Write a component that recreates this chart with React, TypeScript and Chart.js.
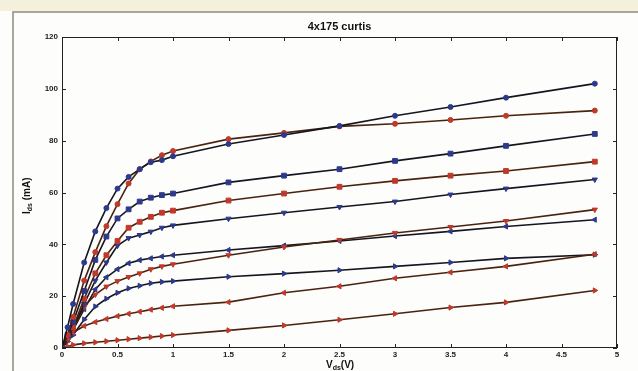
import React, { useEffect, useRef } from "react";
import { Chart, registerables } from "chart.js";

Chart.register(...registerables);

const VDS = [0, 0.05, 0.1, 0.2, 0.3, 0.4, 0.5, 0.6, 0.7, 0.8, 0.9, 1.0, 1.5, 2.0, 2.5, 3.0, 3.5, 4.0, 4.8];

const C1 = [0, 8, 17, 33, 45, 54, 61.5, 66, 69, 71.7, 72.5, 74, 78.7, 82.2, 85.7, 89.6, 93, 96.6, 102];
const C2 = [0, 5, 12, 26, 37, 47, 55.5, 63.5, 69, 72, 74.4, 76, 80.6, 83, 85.5, 86.5, 88, 89.6, 91.6];
const C3 = [0, 5, 10, 22, 34, 43, 50, 53.5, 56.5, 58, 59, 59.6, 63.9, 66.5, 69, 72.2, 75, 78, 82.6];
const C4 = [0, 4, 8, 19, 28.8, 35.8, 41.3, 46.4, 48.7, 50.6, 52.2, 53, 56.9, 59.6, 62.2, 64.5, 66.5, 68.3, 71.9];
const C5 = [0, 4, 8, 17, 26, 33, 39.5, 42.4, 43.6, 44.9, 46.4, 47.3, 49.9, 52.2, 54.4, 56.5, 59.2, 61.5, 65];
const C6 = [0, 3.5, 7, 16, 20.6, 23.7, 25.8, 27.4, 28.8, 30.4, 31.5, 32.3, 35.8, 39, 41.7, 44.4, 46.7, 49, 53.4];
const C7 = [0, 3.5, 7, 15, 22.6, 27.3, 30.4, 32.7, 33.9, 34.6, 35.3, 35.8, 37.8, 39.5, 41.3, 43.2, 45, 46.9, 49.5];
const C8 = [0, 3, 6, 8.5, 10, 11.2, 12.3, 13.2, 14, 14.8, 15.5, 16.1, 17.7, 21.3, 23.8, 26.9, 29.2, 31.5, 36.2];
const C9 = [0, 2.5, 5, 11, 16, 19, 21.3, 23, 24, 25, 25.5, 25.8, 27.5, 28.7, 30, 31.5, 33, 34.6, 36];
const C10 = [0, 0.6, 1.2, 1.8, 2.2, 2.6, 3, 3.4, 3.8, 4.2, 4.6, 5, 6.8, 8.7, 10.9, 13.2, 15.6, 17.6, 22.2];

const X_TICKS = [0, 0.5, 1, 1.5, 2, 2.5, 3, 3.5, 4, 4.5, 5];
const Y_TICKS = [0, 20, 40, 60, 80, 100, 120];

const TITLE = "4x175 curtis";

const BLUE = "#2d3a8c";
const RED = "#c0392b";
const BLUE_LINE = "#15151f";
const RED_LINE = "#4a2210";

const SERIES = [
  { data: C1, color: BLUE, line: BLUE_LINE, style: "circle", rot: 0 },
  { data: C2, color: RED, line: RED_LINE, style: "circle", rot: 0 },
  { data: C3, color: BLUE, line: BLUE_LINE, style: "rect", rot: 0 },
  { data: C4, color: RED, line: RED_LINE, style: "rect", rot: 0 },
  { data: C5, color: BLUE, line: BLUE_LINE, style: "triangle", rot: 180 },
  { data: C6, color: RED, line: RED_LINE, style: "triangle", rot: 180 },
  { data: C7, color: BLUE, line: BLUE_LINE, style: "triangle", rot: 270 },
  { data: C8, color: RED, line: RED_LINE, style: "triangle", rot: 270 },
  { data: C9, color: BLUE, line: BLUE_LINE, style: "triangle", rot: 90 },
  { data: C10, color: RED, line: RED_LINE, style: "triangle", rot: 90 },
];

const FONT = "'Liberation Sans', Arial, sans-serif";

const framePlugin = {
  id: "framePlugin",
  beforeDraw(chart: any) {
    const ctx = chart.ctx;
    ctx.save();
    ctx.fillStyle = "#fdfdfb";
    ctx.fillRect(0, 0, chart.width, chart.height);
    ctx.fillStyle = "#f4f0dc";
    ctx.fillRect(0, 0, chart.width, 11);
    ctx.strokeStyle = "#8a8a80";
    ctx.lineWidth = 1.5;
    ctx.beginPath();
    ctx.moveTo(13, chart.height);
    ctx.lineTo(13, 12);
    ctx.lineTo(chart.width, 12);
    ctx.stroke();
    ctx.restore();
  },
  afterDraw(chart: any) {
    const ctx = chart.ctx;
    const a = chart.chartArea;
    const xs = chart.scales.x;
    const ys = chart.scales.y;
    ctx.save();
    ctx.strokeStyle = "#222";
    ctx.lineWidth = 1;
    ctx.strokeRect(a.left + 0.5, a.top + 0.5, a.right - a.left - 1, a.bottom - a.top - 1);
    const L = 4;
    ctx.beginPath();
    X_TICKS.forEach((v) => {
      const px = Math.round(xs.getPixelForValue(v)) + 0.5;
      ctx.moveTo(px, a.bottom);
      ctx.lineTo(px, a.bottom - L);
      ctx.moveTo(px, a.top);
      ctx.lineTo(px, a.top + L);
    });
    Y_TICKS.forEach((v) => {
      const py = Math.round(ys.getPixelForValue(v)) + 0.5;
      ctx.moveTo(a.left, py);
      ctx.lineTo(a.left + L, py);
      ctx.moveTo(a.right, py);
      ctx.lineTo(a.right - L, py);
    });
    ctx.stroke();

    ctx.fillStyle = "#111";
    ctx.textBaseline = "middle";
    ctx.textAlign = "center";
    ctx.font = "bold 11px " + FONT;
    ctx.fillText(TITLE, (a.left + a.right) / 2, 27);

    // x axis label V_ds(V)
    const xl = 326;
    const xy = 365;
    ctx.textAlign = "left";
    ctx.font = "bold 10px " + FONT;
    ctx.fillText("V", xl, xy);
    let w = ctx.measureText("V").width;
    ctx.font = "bold 7px " + FONT;
    ctx.fillText("ds", xl + w, xy + 3);
    const w2 = ctx.measureText("ds").width;
    ctx.font = "bold 10px " + FONT;
    ctx.fillText("(V)", xl + w + w2, xy);

    // y axis label I_ds (mA)
    ctx.translate(27, 214);
    ctx.rotate(-Math.PI / 2);
    ctx.font = "bold 10px " + FONT;
    ctx.fillText("I", 0, 0);
    w = ctx.measureText("I").width;
    ctx.font = "bold 7px " + FONT;
    ctx.fillText("ds", w, 3);
    const w3 = ctx.measureText("ds").width;
    ctx.font = "bold 10px " + FONT;
    ctx.fillText(" (mA)", w + w3, 0);
    ctx.restore();
  },
};

export default function App() {
  const ref = useRef<HTMLCanvasElement | null>(null);

  useEffect(() => {
    document.body.style.margin = "0";
    if (!ref.current) return;
    const datasets = SERIES.map((s, i) => ({
      label: "c" + (i + 1),
      data: VDS.map((x, j) => ({ x, y: s.data[j] })),
      borderColor: s.line,
      borderWidth: 1.6,
      backgroundColor: s.color,
      pointBackgroundColor: s.color,
      pointBorderColor: s.color,
      pointStyle: s.style as any,
      rotation: s.rot,
      pointRadius: s.style === "rect" ? 3.4 : s.style === "circle" ? 2.5 : 3,
      pointBorderWidth: 1,
      tension: 0,
      showLine: true,
    }));
    const chart = new Chart(ref.current, {
      type: "scatter",
      data: { datasets },
      options: {
        animation: false,
        responsive: false,
        maintainAspectRatio: false,
        layout: { padding: { left: 0, right: 21, top: 37, bottom: 0 } },
        plugins: {
          legend: { display: false },
          tooltip: { enabled: false },
          title: { display: false },
        },
        scales: {
          x: {
            type: "linear",
            min: 0,
            max: 5,
            afterFit: (s: any) => {
              s.height = 23;
            },
            afterBuildTicks: (s: any) => {
              s.ticks = X_TICKS.map((v) => ({ value: v }));
            },
            grid: { display: false, drawTicks: false },
            border: { display: false },
            ticks: {
              padding: 2,
              color: "#222",
              font: { family: FONT, size: 8, weight: "bold" },
              callback: (v: any) => String(v),
            },
          },
          y: {
            type: "linear",
            min: 0,
            max: 120,
            afterFit: (s: any) => {
              s.width = 62;
            },
            afterBuildTicks: (s: any) => {
              s.ticks = Y_TICKS.map((v) => ({ value: v }));
            },
            grid: { display: false, drawTicks: false },
            border: { display: false },
            ticks: {
              padding: 4,
              color: "#222",
              font: { family: FONT, size: 8, weight: "bold" },
              callback: (v: any) => String(v),
            },
          },
        },
      },
      plugins: [framePlugin],
    });
    return () => chart.destroy();
  }, []);

  return (
    <div style={{ position: "fixed", left: 0, top: 0, width: 638, height: 371 }}>
      <canvas ref={ref} width={638} height={371} style={{ display: "block", width: 638, height: 371 }} />
    </div>
  );
}
